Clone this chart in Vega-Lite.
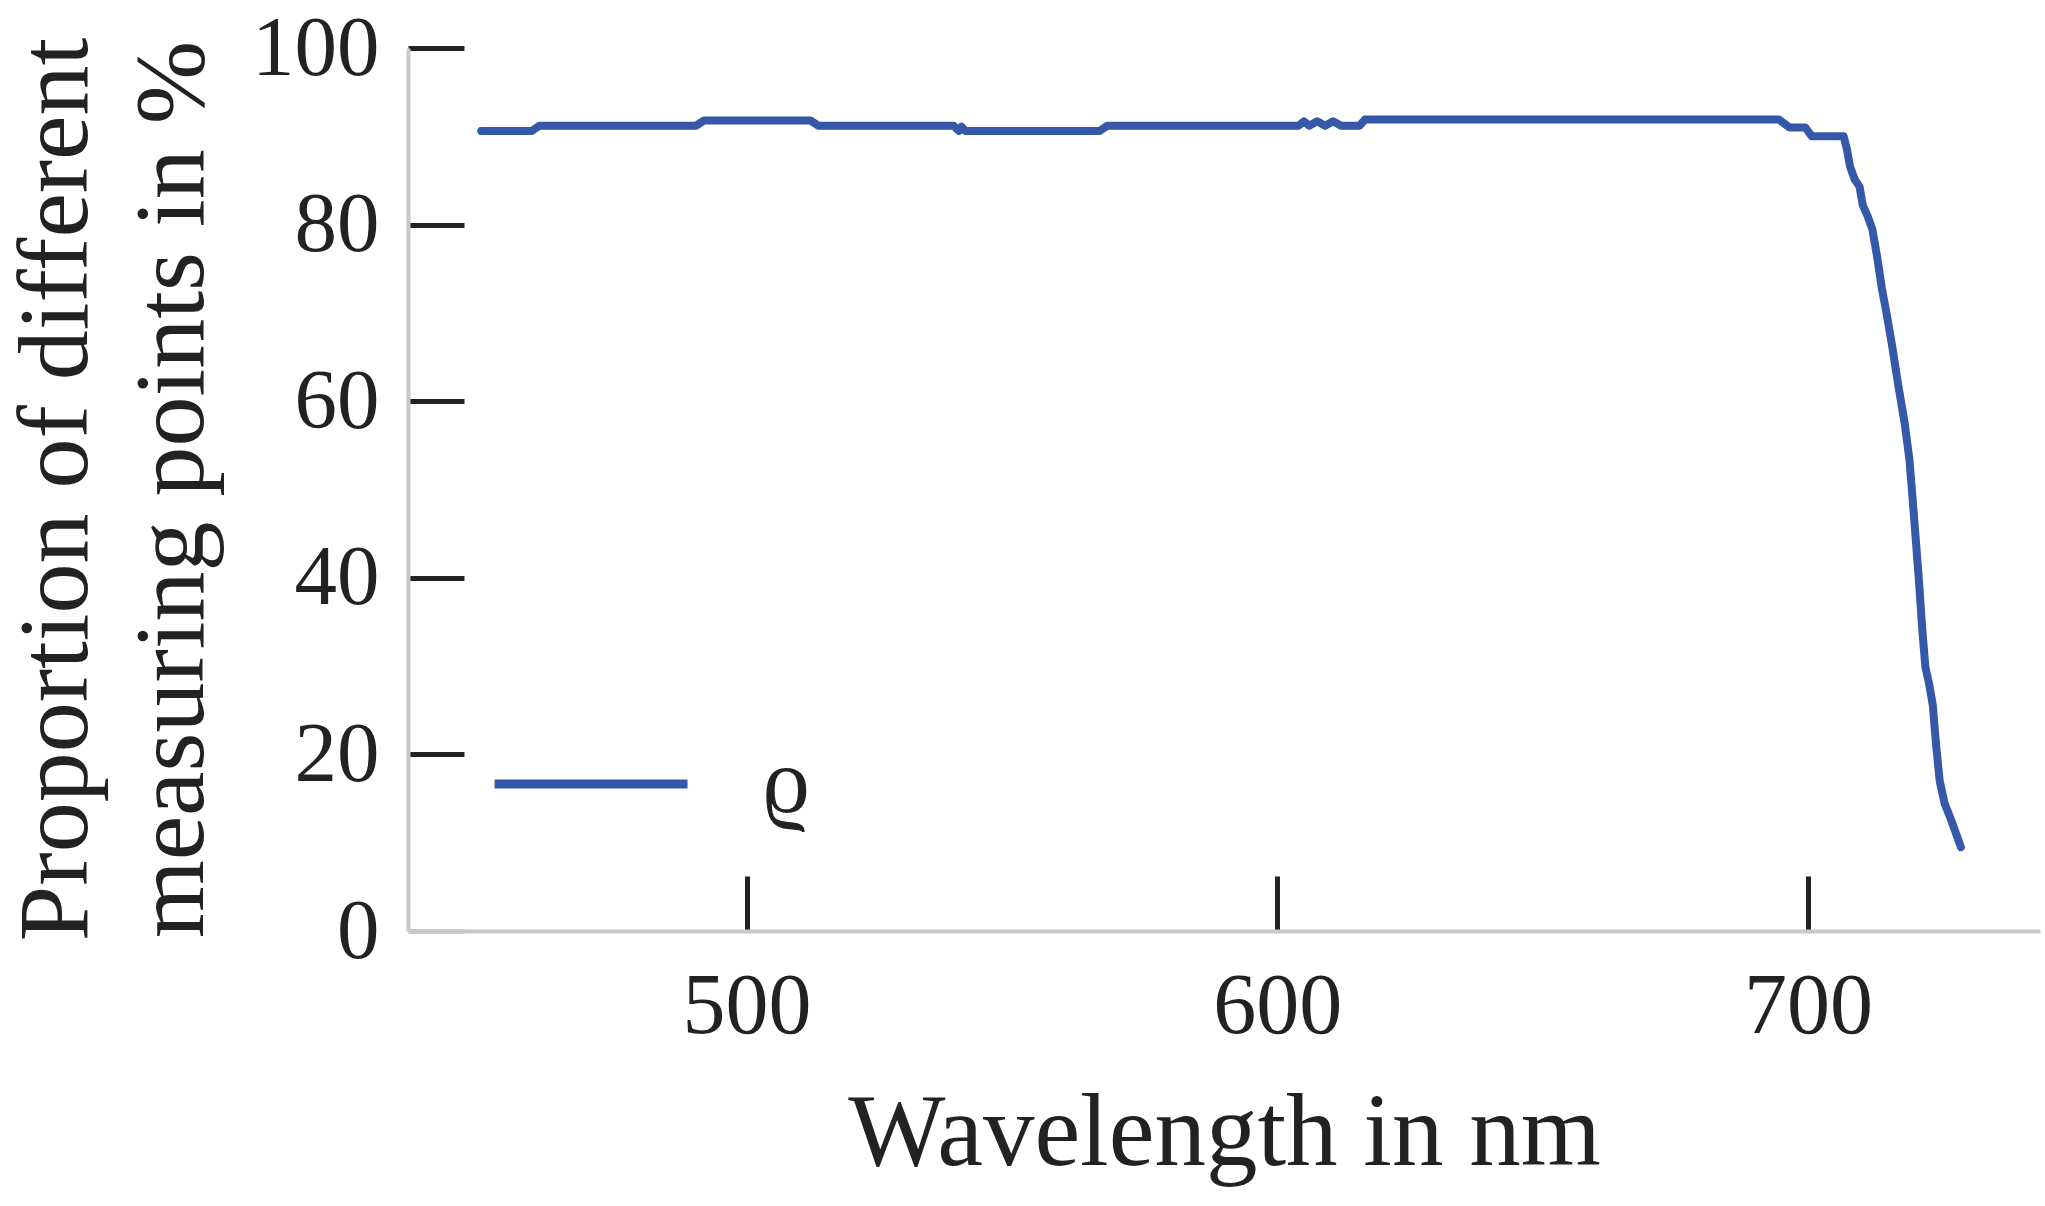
{
  "$schema": "https://vega.github.io/schema/vega-lite/v6.json",
  "width": 1632,
  "height": 883,
  "autosize": "none",
  "padding": {"left": 408, "top": 48, "right": 5, "bottom": 275},
  "background": "white",
  "data": {
    "values": [
      {"wavelength": 450, "proportion": 90.6, "series": "ϱ"},
      {"wavelength": 459.5, "proportion": 90.6, "series": "ϱ"},
      {"wavelength": 461, "proportion": 91.2, "series": "ϱ"},
      {"wavelength": 490.5, "proportion": 91.2, "series": "ϱ"},
      {"wavelength": 492, "proportion": 91.8, "series": "ϱ"},
      {"wavelength": 512, "proportion": 91.8, "series": "ϱ"},
      {"wavelength": 513.5, "proportion": 91.2, "series": "ϱ"},
      {"wavelength": 539, "proportion": 91.2, "series": "ϱ"},
      {"wavelength": 540, "proportion": 90.6, "series": "ϱ"},
      {"wavelength": 540.5, "proportion": 91.1, "series": "ϱ"},
      {"wavelength": 541.2, "proportion": 90.6, "series": "ϱ"},
      {"wavelength": 566.5, "proportion": 90.6, "series": "ϱ"},
      {"wavelength": 568, "proportion": 91.2, "series": "ϱ"},
      {"wavelength": 604, "proportion": 91.2, "series": "ϱ"},
      {"wavelength": 605, "proportion": 91.7, "series": "ϱ"},
      {"wavelength": 606, "proportion": 91.2, "series": "ϱ"},
      {"wavelength": 607.5, "proportion": 91.7, "series": "ϱ"},
      {"wavelength": 609, "proportion": 91.2, "series": "ϱ"},
      {"wavelength": 610.5, "proportion": 91.7, "series": "ϱ"},
      {"wavelength": 612, "proportion": 91.2, "series": "ϱ"},
      {"wavelength": 615.5, "proportion": 91.2, "series": "ϱ"},
      {"wavelength": 616.5, "proportion": 91.9, "series": "ϱ"},
      {"wavelength": 694.5, "proportion": 91.9, "series": "ϱ"},
      {"wavelength": 696.5, "proportion": 91.0, "series": "ϱ"},
      {"wavelength": 699.5, "proportion": 91.0, "series": "ϱ"},
      {"wavelength": 700.7, "proportion": 90.0, "series": "ϱ"},
      {"wavelength": 706.7, "proportion": 90.0, "series": "ϱ"},
      {"wavelength": 707.3, "proportion": 88.6, "series": "ϱ"},
      {"wavelength": 707.9, "proportion": 86.6, "series": "ϱ"},
      {"wavelength": 708.8, "proportion": 85.1, "series": "ϱ"},
      {"wavelength": 709.7, "proportion": 84.3, "series": "ϱ"},
      {"wavelength": 710.3, "proportion": 82.2, "series": "ϱ"},
      {"wavelength": 711.2, "proportion": 81.0, "series": "ϱ"},
      {"wavelength": 712.1, "proportion": 79.5, "series": "ϱ"},
      {"wavelength": 713.0, "proportion": 76.4, "series": "ϱ"},
      {"wavelength": 713.9, "proportion": 72.8, "series": "ϱ"},
      {"wavelength": 714.8, "proportion": 69.9, "series": "ϱ"},
      {"wavelength": 715.8, "proportion": 66.4, "series": "ϱ"},
      {"wavelength": 717.0, "proportion": 61.8, "series": "ϱ"},
      {"wavelength": 718.2, "proportion": 57.5, "series": "ϱ"},
      {"wavelength": 719.1, "proportion": 53.4, "series": "ϱ"},
      {"wavelength": 719.7, "proportion": 48.9, "series": "ϱ"},
      {"wavelength": 720.3, "proportion": 44.3, "series": "ϱ"},
      {"wavelength": 720.9, "proportion": 39.6, "series": "ϱ"},
      {"wavelength": 721.5, "proportion": 34.3, "series": "ϱ"},
      {"wavelength": 722.1, "proportion": 29.9, "series": "ϱ"},
      {"wavelength": 722.8, "proportion": 28.0, "series": "ϱ"},
      {"wavelength": 723.5, "proportion": 25.6, "series": "ϱ"},
      {"wavelength": 724.1, "proportion": 21.2, "series": "ϱ"},
      {"wavelength": 724.8, "proportion": 17.0, "series": "ϱ"},
      {"wavelength": 725.7, "proportion": 14.5, "series": "ϱ"},
      {"wavelength": 727.0, "proportion": 12.5, "series": "ϱ"},
      {"wavelength": 728.8, "proportion": 9.5, "series": "ϱ"}
    ]
  },
  "mark": {"type": "line", "strokeWidth": 8, "strokeJoin": "round", "strokeCap": "round"},
  "encoding": {
    "x": {
      "field": "wavelength",
      "type": "quantitative",
      "scale": {"domain": [436.2, 743.7], "nice": false, "zero": false},
      "axis": {
        "title": "Wavelength in nm",
        "values": [500, 600, 700],
        "grid": false,
        "domainColor": "#c8c8c8",
        "domainWidth": 4,
        "tickColor": "#222222",
        "tickWidth": 5,
        "tickSize": -55,
        "labelPadding": 88,
        "labelFont": "Liberation Serif",
        "labelFontSize": 86,
        "labelColor": "#222222",
        "labelFlush": false,
        "titleFont": "Liberation Serif",
        "titleFontSize": 103,
        "titleFontWeight": "normal",
        "titleColor": "#222222",
        "titleX": 816,
        "titleY": 233,
        "titleAlign": "center",
        "titleBaseline": "alphabetic"
      }
    },
    "y": {
      "field": "proportion",
      "type": "quantitative",
      "scale": {"domain": [0, 100], "nice": false},
      "axis": {
        "title": ["Proportion of different", "measuring points in %"],
        "values": [0, 20, 40, 60, 80, 100],
        "grid": false,
        "domainColor": "#c8c8c8",
        "domainWidth": 4,
        "tickColor": {"condition": {"test": "datum.value === 0", "value": "#c8c8c8"}, "value": "#222222"},
        "tickWidth": 5,
        "tickSize": -56,
        "labelPadding": 85,
        "labelFont": "Liberation Serif",
        "labelFontSize": 85,
        "labelColor": "#222222",
        "labelFlush": false,
        "titleFont": "Liberation Serif",
        "titleFontSize": 100,
        "titleFontWeight": "normal",
        "titleColor": "#222222",
        "titleAngle": -90,
        "titleX": -322,
        "titleY": 441,
        "titleAlign": "center",
        "titleBaseline": "alphabetic",
        "titleLineHeight": 116
      }
    },
    "color": {
      "field": "series",
      "type": "nominal",
      "scale": {"range": ["#3558a8"]},
      "legend": {
        "title": null,
        "orient": "none",
        "legendX": 82,
        "legendY": 635,
        "padding": 0,
        "symbolType": "stroke",
        "symbolSize": 37249,
        "symbolStrokeWidth": 9,
        "labelFont": "Liberation Serif, DejaVu Serif",
        "labelFontSize": 94,
        "labelColor": "#222222",
        "labelOffset": 70
      }
    }
  },
  "config": {"view": {"stroke": null}}
}
